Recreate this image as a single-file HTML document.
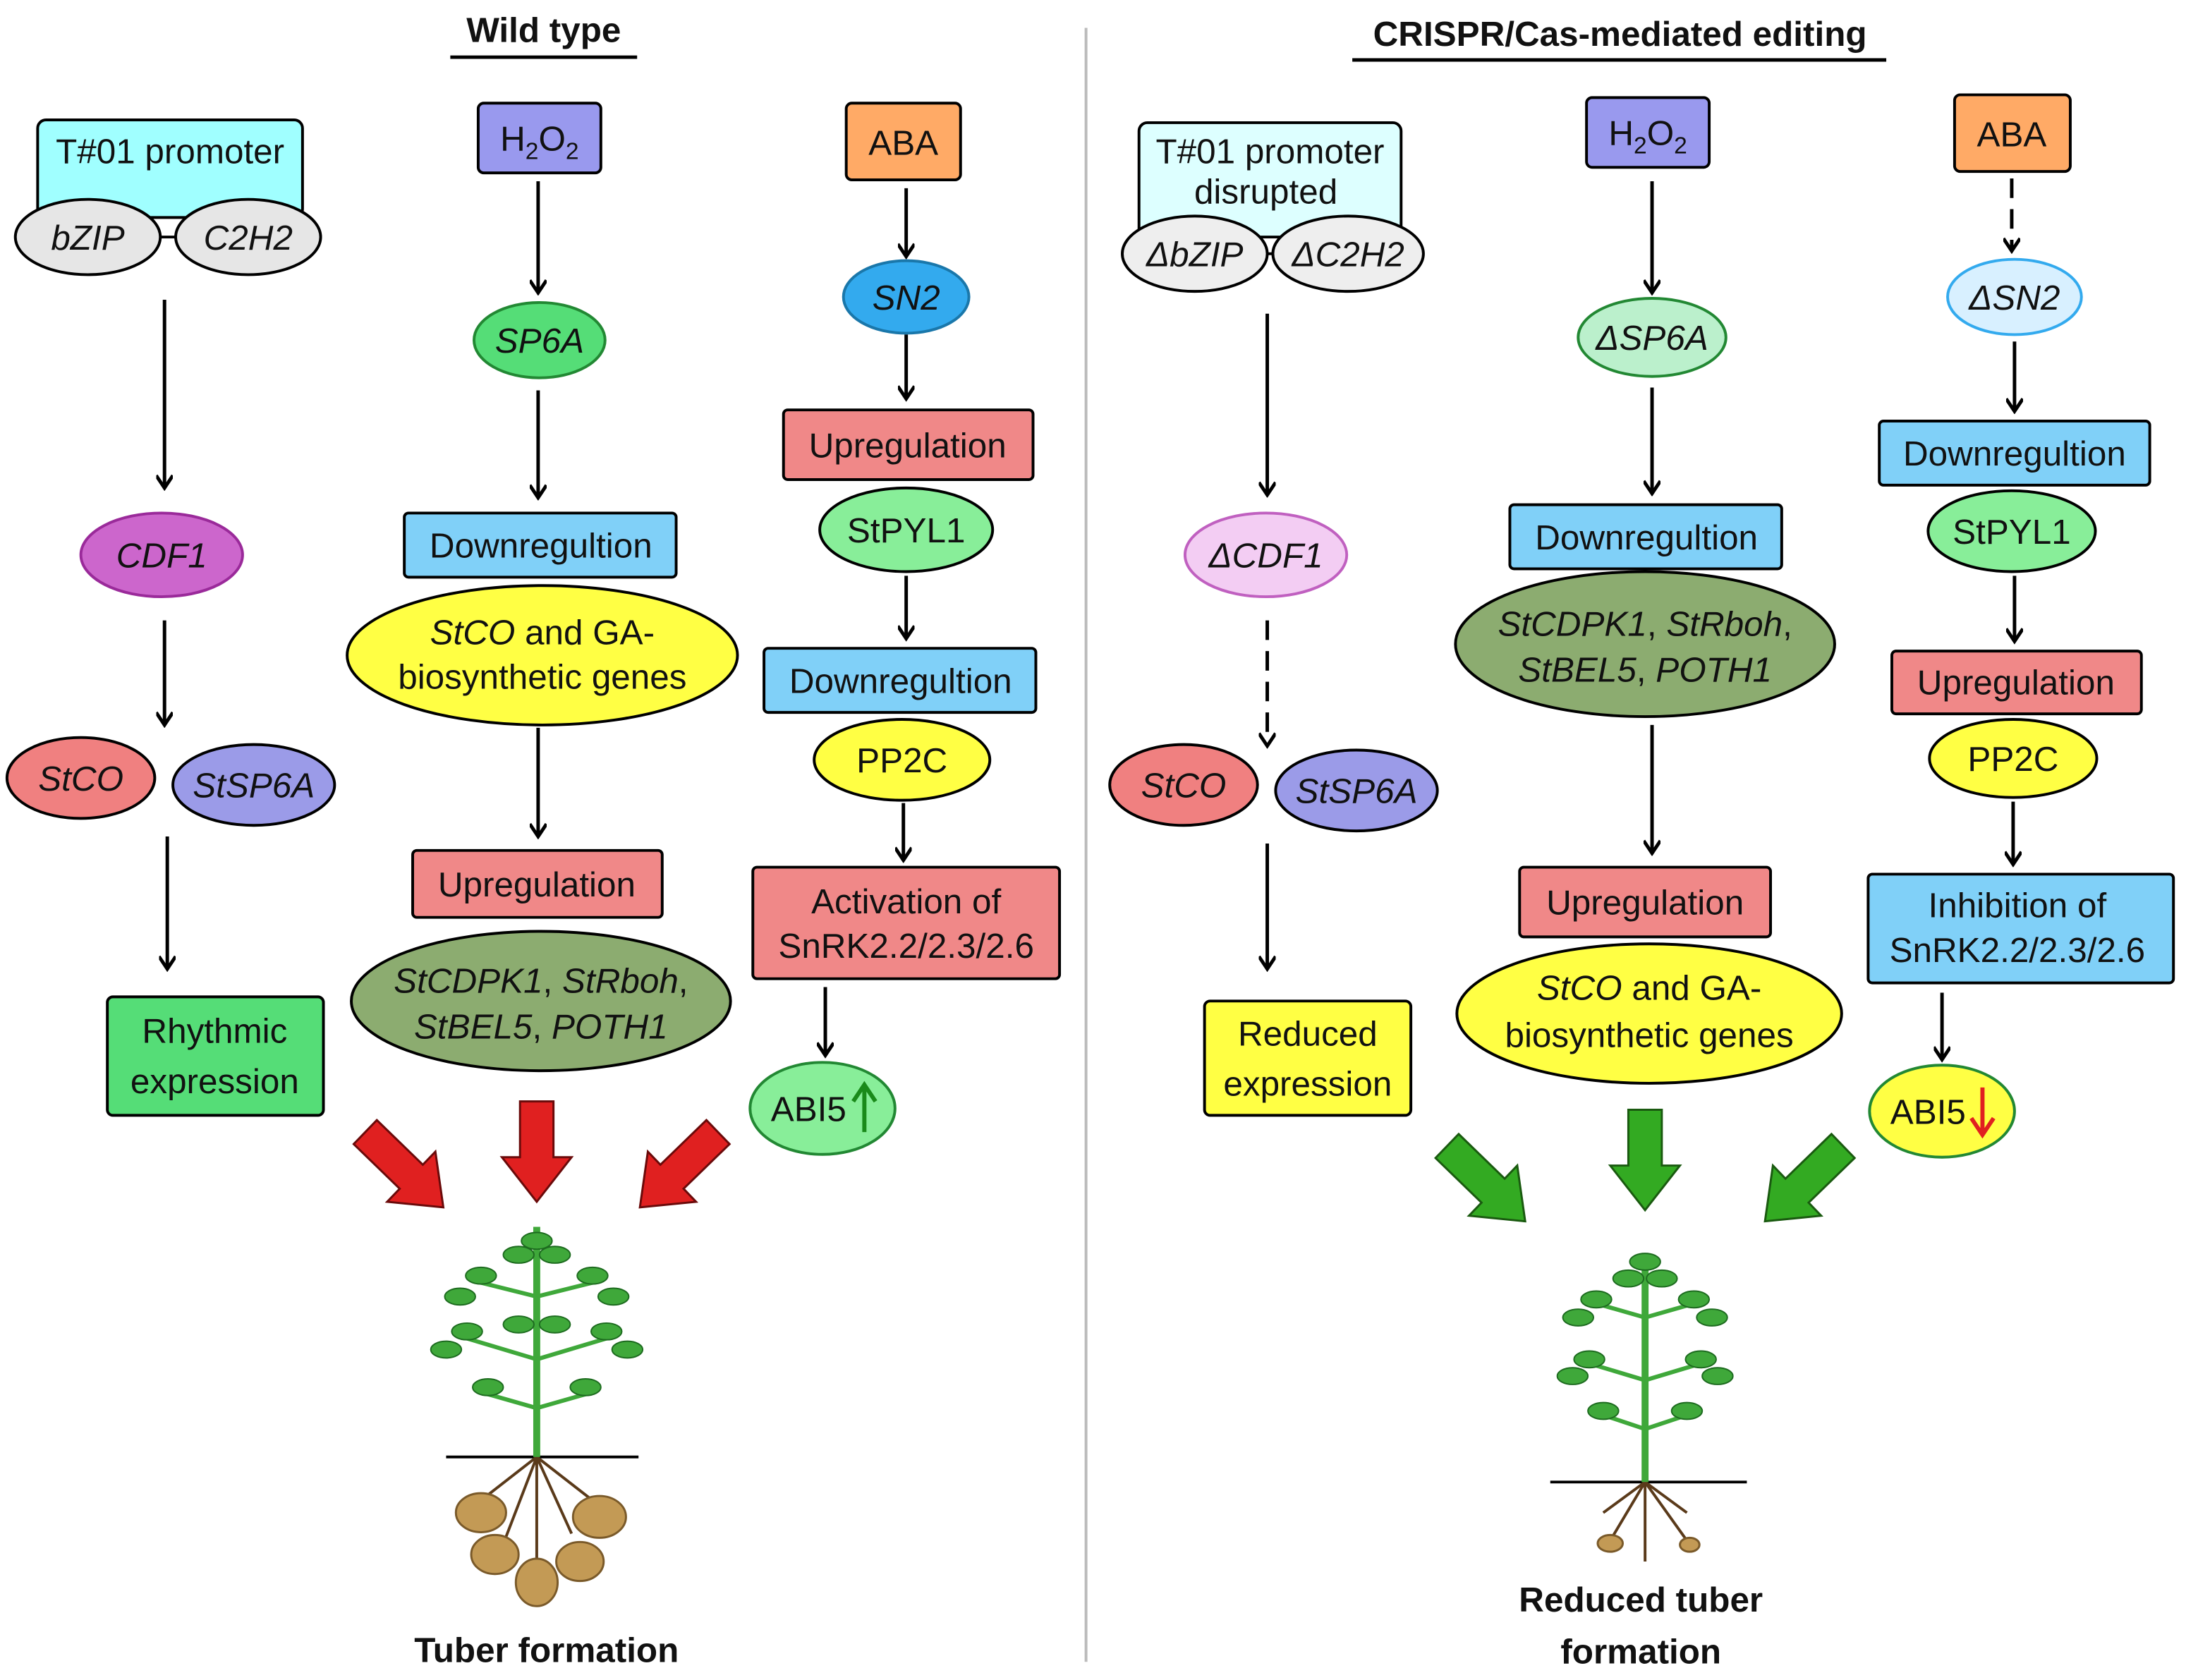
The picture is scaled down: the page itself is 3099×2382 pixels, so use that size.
<!DOCTYPE html>
<html><head><meta charset="utf-8"><style>
html,body{margin:0;padding:0;background:#fff;}
svg{display:block;}
text{font-family:"Liberation Sans",Arial,sans-serif;fill:#111;}
</style></head><body>
<svg width="3099" height="2382" viewBox="0 0 1568 1205" preserveAspectRatio="none" xmlns="http://www.w3.org/2000/svg">
<defs>
<marker id="ah" markerWidth="12" markerHeight="12" refX="10" refY="6" orient="auto" markerUnits="userSpaceOnUse"><path d="M1,0 L10,6 L1,12" fill="none" stroke="#000" stroke-width="2.5"/></marker>
<g id="leaf"><ellipse cx="0" cy="0" rx="11" ry="6" fill="#3fa83a" stroke="#1d6b1f" stroke-width="1"/></g>
</defs>
<g stroke="#000" stroke-width="2.5">
<line x1="323" y1="41" x2="457" y2="41"/>
<line x1="970" y1="43" x2="1353" y2="43"/>
</g>
<line x1="779" y1="20" x2="779" y2="1192" stroke="#bbb" stroke-width="2"/>
<text x="390" y="30" font-size="25" font-weight="bold" text-anchor="middle">Wild type</text>
<text x="1162" y="33" font-size="25" font-weight="bold" text-anchor="middle">CRISPR/Cas-mediated editing</text>

<g stroke="#000" stroke-width="2">
<rect x="27" y="86" width="190" height="70" rx="6" fill="#a0ffff"/>
<line x1="113" y1="170" x2="128" y2="170"/>
<ellipse cx="63" cy="170" rx="52" ry="27" fill="#e6e6e6"/>
<ellipse cx="178" cy="170" rx="52" ry="27" fill="#e6e6e6"/>
<ellipse cx="116" cy="398" rx="58" ry="30" fill="#cc66cc" stroke="#9a2a9a"/>
<ellipse cx="58" cy="558" rx="53" ry="29" fill="#f08080"/>
<ellipse cx="182" cy="563" rx="58" ry="29" fill="#9b9be8"/>
<rect x="77" y="715" width="155" height="85" rx="4" fill="#55dd77"/>
<rect x="343" y="74" width="88" height="50" rx="4" fill="#9999ee"/>
<ellipse cx="387" cy="244" rx="47" ry="27" fill="#55dd77" stroke="#228833"/>
<rect x="290" y="368" width="195" height="46" rx="3" fill="#80d0f8"/>
<ellipse cx="389" cy="470" rx="140" ry="50" fill="#ffff44"/>
<rect x="296" y="610" width="179" height="48" rx="3" fill="#f08888"/>
<ellipse cx="388" cy="718" rx="136" ry="50" fill="#8cac70"/>
<rect x="607" y="74" width="82" height="55" rx="4" fill="#ffaa66"/>
<ellipse cx="650" cy="213" rx="45" ry="26" fill="#33aaee" stroke="#1a77aa"/>
<rect x="562" y="294" width="179" height="50" rx="3" fill="#f08888"/>
<ellipse cx="650" cy="380" rx="62" ry="30" fill="#88ee99"/>
<rect x="548" y="465" width="195" height="46" rx="3" fill="#80d0f8"/>
<ellipse cx="647" cy="545" rx="63" ry="29" fill="#ffff44"/>
<rect x="540" y="622" width="220" height="80" rx="3" fill="#f08888"/>
<ellipse cx="590" cy="795" rx="52" ry="33" fill="#88ee99" stroke="#228833"/>

<rect x="817" y="88" width="188" height="82" rx="6" fill="#ddffff"/>
<line x1="905" y1="182" x2="918" y2="182"/>
<ellipse cx="857" cy="182" rx="52" ry="27" fill="#eeeeee"/>
<ellipse cx="967" cy="182" rx="54" ry="27" fill="#eeeeee"/>
<ellipse cx="908" cy="398" rx="58" ry="30" fill="#f3cdf3" stroke="#c060c0"/>
<ellipse cx="849" cy="563" rx="53" ry="29" fill="#f08080"/>
<ellipse cx="973" cy="567" rx="58" ry="29" fill="#9b9be8"/>
<rect x="864" y="718" width="148" height="82" rx="4" fill="#ffff44"/>
<rect x="1138" y="70" width="88" height="50" rx="4" fill="#9999ee"/>
<ellipse cx="1185" cy="242" rx="53" ry="28" fill="#bbf0cc" stroke="#228833"/>
<rect x="1083" y="362" width="195" height="46" rx="3" fill="#80d0f8"/>
<ellipse cx="1180" cy="462" rx="136" ry="52" fill="#8cac70"/>
<rect x="1090" y="622" width="180" height="50" rx="3" fill="#f08888"/>
<ellipse cx="1183" cy="727" rx="138" ry="50" fill="#ffff44"/>
<rect x="1402" y="68" width="83" height="55" rx="4" fill="#ffaa66"/>
<ellipse cx="1445" cy="213" rx="48" ry="27" fill="#d8f0ff" stroke="#33aaee"/>
<rect x="1348" y="302" width="194" height="46" rx="3" fill="#80d0f8"/>
<ellipse cx="1443" cy="381" rx="60" ry="29" fill="#88ee99"/>
<rect x="1357" y="467" width="179" height="45" rx="3" fill="#f08888"/>
<ellipse cx="1444" cy="544" rx="60" ry="28" fill="#ffff44"/>
<rect x="1340" y="627" width="219" height="78" rx="3" fill="#80d0f8"/>
<ellipse cx="1393" cy="797" rx="52" ry="33" fill="#ffff44" stroke="#228833"/>
</g>

<g stroke="#000" stroke-width="2.5" fill="none" marker-end="url(#ah)">
<line x1="118" y1="215" x2="118" y2="350"/>
<line x1="118" y1="445" x2="118" y2="520"/>
<line x1="120" y1="600" x2="120" y2="695"/>
<line x1="386" y1="130" x2="386" y2="210"/>
<line x1="386" y1="280" x2="386" y2="357"/>
<line x1="386" y1="522" x2="386" y2="600"/>
<line x1="650" y1="135" x2="650" y2="184"/>
<line x1="650" y1="240" x2="650" y2="286"/>
<line x1="650" y1="413" x2="650" y2="458"/>
<line x1="648" y1="576" x2="648" y2="617"/>
<line x1="592" y1="708" x2="592" y2="757"/>
<line x1="909" y1="225" x2="909" y2="355"/>
<line x1="909" y1="445" x2="909" y2="535" stroke-dasharray="14,8"/>
<line x1="909" y1="605" x2="909" y2="695"/>
<line x1="1185" y1="130" x2="1185" y2="210"/>
<line x1="1185" y1="278" x2="1185" y2="354"/>
<line x1="1185" y1="520" x2="1185" y2="612"/>
<line x1="1443" y1="128" x2="1443" y2="180" stroke-dasharray="14,8"/>
<line x1="1445" y1="245" x2="1445" y2="295"/>
<line x1="1445" y1="413" x2="1445" y2="460"/>
<line x1="1444" y1="575" x2="1444" y2="620"/>
<line x1="1393" y1="712" x2="1393" y2="760"/>
</g>

<g stroke="#6a0a0a" stroke-width="1.5" fill="#e02020">
<path d="M373,790 L397,790 L397,830 L410,830 L385,862 L360,830 L373,830 Z"/>
<polygon points="253.7,820.6 286.7,852.6 277.7,862 318,866 312.3,826 303.3,835.4 270.3,803.4"/>
<polygon points="523.3,820.6 490.3,852.6 499.3,862 459,866 464.7,826 473.7,835.4 506.7,803.4"/>
</g>
<g stroke="#1a5a10" stroke-width="1.5" fill="#33aa22">
<path d="M1168,796 L1192,796 L1192,836 L1205,836 L1180,868 L1155,836 L1168,836 Z"/>
<polygon points="1029.7,830.6 1062.7,862.6 1053.7,872 1094,876 1088.3,836 1079.3,845.4 1046.3,813.4"/>
<polygon points="1330.3,830.6 1297.3,862.6 1306.3,872 1266,876 1271.7,836 1280.7,845.4 1313.7,813.4"/>
</g>

<g>
<line x1="320" y1="1045" x2="458" y2="1045" stroke="#000" stroke-width="2"/>
<g stroke="#5a3a1a" stroke-width="2" fill="none">
<path d="M385,1045 L360,1110 M385,1045 L410,1100 M385,1045 L385,1130 M385,1045 L340,1080 M385,1045 L430,1080"/>
</g>
<g fill="#c39a55" stroke="#7a5a2a" stroke-width="1.5">
<ellipse cx="345" cy="1085" rx="18" ry="14"/><ellipse cx="430" cy="1088" rx="19" ry="15"/>
<ellipse cx="355" cy="1115" rx="17" ry="14"/><ellipse cx="416" cy="1120" rx="17" ry="14"/>
<ellipse cx="385" cy="1135" rx="15" ry="17"/>
</g>
<line x1="385" y1="880" x2="385" y2="1045" stroke="#3fa83a" stroke-width="5"/>
<g stroke="#3fa83a" stroke-width="3">
<line x1="385" y1="930" x2="345" y2="920"/><line x1="385" y1="930" x2="425" y2="920"/>
<line x1="385" y1="975" x2="335" y2="960"/><line x1="385" y1="975" x2="435" y2="960"/>
<line x1="385" y1="1010" x2="350" y2="1000"/><line x1="385" y1="1010" x2="420" y2="1000"/>
</g>
<use href="#leaf" x="385" y="890"/>
<use href="#leaf" x="372" y="900"/><use href="#leaf" x="398" y="900"/>
<use href="#leaf" x="345" y="915"/><use href="#leaf" x="425" y="915"/>
<use href="#leaf" x="330" y="930"/><use href="#leaf" x="440" y="930"/>
<use href="#leaf" x="335" y="955"/><use href="#leaf" x="435" y="955"/>
<use href="#leaf" x="320" y="968"/><use href="#leaf" x="450" y="968"/>
<use href="#leaf" x="350" y="995"/><use href="#leaf" x="420" y="995"/>
<use href="#leaf" x="372" y="950"/><use href="#leaf" x="398" y="950"/>
</g>
<g>
<line x1="1112" y1="1063" x2="1253" y2="1063" stroke="#000" stroke-width="2"/>
<g stroke="#5a3a1a" stroke-width="2" fill="none">
<path d="M1180,1063 L1155,1105 M1180,1063 L1210,1105 M1180,1063 L1180,1120 M1180,1063 L1150,1085 M1180,1063 L1210,1085"/>
</g>
<g fill="#c39a55" stroke="#7a5a2a" stroke-width="1.5">
<ellipse cx="1155" cy="1107" rx="9" ry="6"/><ellipse cx="1212" cy="1108" rx="7" ry="5"/>
</g>
<line x1="1180" y1="900" x2="1180" y2="1063" stroke="#3fa83a" stroke-width="5"/>
<g stroke="#3fa83a" stroke-width="3">
<line x1="1180" y1="945" x2="1145" y2="935"/><line x1="1180" y1="945" x2="1215" y2="935"/>
<line x1="1180" y1="990" x2="1140" y2="978"/><line x1="1180" y1="990" x2="1220" y2="978"/>
<line x1="1180" y1="1025" x2="1150" y2="1015"/><line x1="1180" y1="1025" x2="1210" y2="1015"/>
</g>
<use href="#leaf" x="1180" y="905"/>
<use href="#leaf" x="1168" y="917"/><use href="#leaf" x="1192" y="917"/>
<use href="#leaf" x="1145" y="932"/><use href="#leaf" x="1215" y="932"/>
<use href="#leaf" x="1132" y="945"/><use href="#leaf" x="1228" y="945"/>
<use href="#leaf" x="1140" y="975"/><use href="#leaf" x="1220" y="975"/>
<use href="#leaf" x="1128" y="987"/><use href="#leaf" x="1232" y="987"/>
<use href="#leaf" x="1150" y="1012"/><use href="#leaf" x="1210" y="1012"/>
</g>

<g font-size="25" text-anchor="middle">
<text x="122" y="117">T#01 promoter</text>
<text x="63" y="179" font-style="italic">bZIP</text>
<text x="178" y="179" font-style="italic">C2H2</text>
<text x="116" y="407" font-style="italic">CDF1</text>
<text x="58" y="567" font-style="italic">StCO</text>
<text x="182" y="572" font-style="italic">StSP6A</text>
<text x="154" y="748">Rhythmic</text>
<text x="154" y="784">expression</text>
<text x="387" y="108">H<tspan font-size="17" dy="6">2</tspan><tspan dy="-6">O</tspan><tspan font-size="17" dy="6">2</tspan></text>
<text x="387" y="253" font-style="italic">SP6A</text>
<text x="388" y="400">Downregultion</text>
<text x="389" y="462"><tspan font-style="italic">StCO</tspan> and GA-</text>
<text x="389" y="494">biosynthetic genes</text>
<text x="385" y="643">Upregulation</text>
<text x="388" y="712" font-style="italic">StCDPK1<tspan font-style="normal">, </tspan>StRboh<tspan font-style="normal">,</tspan></text>
<text x="388" y="745" font-style="italic">StBEL5<tspan font-style="normal">, </tspan>POTH1</text>
<text x="648" y="111">ABA</text>
<text x="650" y="222" font-style="italic">SN2</text>
<text x="651" y="328">Upregulation</text>
<text x="650" y="389">StPYL1</text>
<text x="646" y="497">Downregultion</text>
<text x="647" y="554">PP2C</text>
<text x="650" y="655">Activation of</text>
<text x="650" y="687">SnRK2.2/2.3/2.6</text>
<text x="580" y="804">ABI5</text>
<text x="392" y="1192" font-weight="bold">Tuber formation</text>

<text x="911" y="117">T#01 promoter</text>
<text x="908" y="146">disrupted</text>
<text x="857" y="191" font-style="italic">ΔbZIP</text>
<text x="967" y="191" font-style="italic">ΔC2H2</text>
<text x="908" y="407" font-style="italic">ΔCDF1</text>
<text x="849" y="572" font-style="italic">StCO</text>
<text x="973" y="576" font-style="italic">StSP6A</text>
<text x="938" y="750">Reduced</text>
<text x="938" y="786">expression</text>
<text x="1182" y="104">H<tspan font-size="17" dy="6">2</tspan><tspan dy="-6">O</tspan><tspan font-size="17" dy="6">2</tspan></text>
<text x="1185" y="251" font-style="italic">ΔSP6A</text>
<text x="1181" y="394">Downregultion</text>
<text x="1180" y="456" font-style="italic">StCDPK1<tspan font-style="normal">, </tspan>StRboh<tspan font-style="normal">,</tspan></text>
<text x="1180" y="489" font-style="italic">StBEL5<tspan font-style="normal">, </tspan>POTH1</text>
<text x="1180" y="656">Upregulation</text>
<text x="1183" y="717"><tspan font-style="italic">StCO</tspan> and GA-</text>
<text x="1183" y="751">biosynthetic genes</text>
<text x="1443" y="105">ABA</text>
<text x="1445" y="222" font-style="italic">ΔSN2</text>
<text x="1445" y="334">Downregultion</text>
<text x="1443" y="390">StPYL1</text>
<text x="1446" y="498">Upregulation</text>
<text x="1444" y="553">PP2C</text>
<text x="1447" y="658">Inhibition  of</text>
<text x="1447" y="690">SnRK2.2/2.3/2.6</text>
<text x="1383" y="806">ABI5</text>
<text x="1177" y="1156" font-weight="bold">Reduced tuber</text>
<text x="1177" y="1193" font-weight="bold">formation</text>
</g>
<g stroke-width="3" fill="none">
<path d="M620,812 L620,780 M612,790 L620,778 L628,790" stroke="#1a8a1a"/>
<path d="M1422,780 L1422,812 M1414,802 L1422,814 L1430,802" stroke="#e02020"/>
</g>
</svg>
</body></html>
